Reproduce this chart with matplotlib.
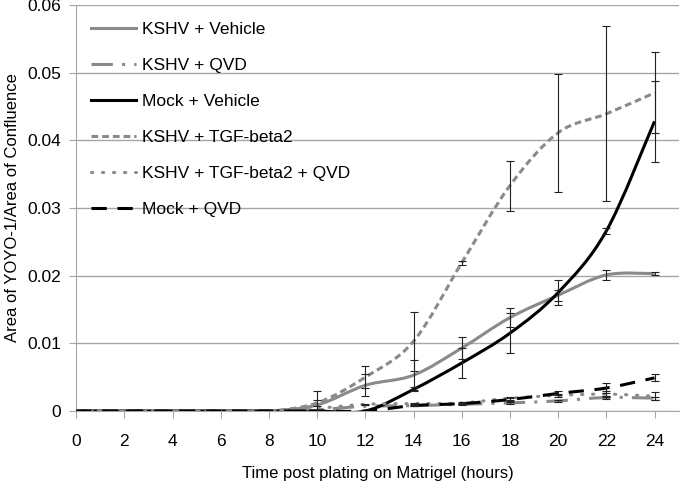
import numpy as np
import matplotlib
matplotlib.use("Agg")
import matplotlib.pyplot as plt
from matplotlib.path import Path
from matplotlib.patches import PathPatch
from matplotlib.lines import Line2D

plt.rcParams["font.family"] = ["Liberation Sans", "DejaVu Sans"]

HOURS = [0, 2, 4, 6, 8, 10, 12, 14, 16, 18, 20, 22, 24]

KSHV_VEHICLE = [0, 0, 0, 0, 0, 0.0009, 0.0038, 0.0053, 0.0093, 0.0138, 0.0171, 0.0201, 0.0203]
KSHV_VEHICLE_ERR = [0, 0, 0, 0, 0, 0.0021, 0.0016, 0.0022, 0.0016, 0.0014, 0.0008, 0.0007, 0.0002]

KSHV_QVD = [0, 0, 0, 0, 0, 0.0002, 0.0007, 0.0008, 0.0010, 0.0012, 0.0015, 0.0020, 0.0019]
KSHV_QVD_ERR = [0, 0, 0, 0, 0, 0, 0, 0.0001, 0.0001, 0.0001, 0.0002, 0.0002, 0.0002]

MOCK_VEHICLE = [0, 0, 0, 0, 0, 0, 0, 0.0032, 0.0071, 0.0115, 0.0175, 0.0266, 0.0428]
MOCK_VEHICLE_ERR = [0, 0, 0, 0, 0, 0, 0, 0.0003, 0.0022, 0.0030, 0.0019, 0.0005, 0.0060]

KSHV_TGF = [0, 0, 0, 0, 0, 0.0012, 0.0050, 0.0103, 0.0219, 0.0333, 0.0411, 0.0439, 0.0470]
KSHV_TGF_ERR = [0, 0, 0, 0, 0, 0.0005, 0.0016, 0.0044, 0.0003, 0.0037, 0.0087, 0.0129, 0.0060]

KSHV_TGF_QVD = [0, 0, 0, 0, 0, 0.0004, 0.0010, 0.0011, 0.0012, 0.0019, 0.0023, 0.0025, 0.0022]
KSHV_TGF_QVD_ERR = [0, 0, 0, 0, 0, 0, 0.0001, 0.0001, 0.0001, 0.0002, 0.0002, 0.0004, 0.0006]

MOCK_QVD = [0, 0, 0, 0, 0, 0, 0, 0.0008, 0.0011, 0.0017, 0.0026, 0.0034, 0.0049]
MOCK_QVD_ERR = [0, 0, 0, 0, 0, 0, 0, 0.0001, 0.0001, 0.0002, 0.0003, 0.0008, 0.0005]

GRAY = "#8a8a8a"
BLACK = "#000000"

SERIES = [
    ("KSHV + Vehicle", KSHV_VEHICLE, KSHV_VEHICLE_ERR, GRAY, "-", "butt"),
    ("KSHV + QVD", KSHV_QVD, KSHV_QVD_ERR, GRAY, (0, (7, 3, 1, 3)), "butt"),
    ("Mock + Vehicle", MOCK_VEHICLE, MOCK_VEHICLE_ERR, BLACK, "-", "butt"),
    ("KSHV + TGF-beta2", KSHV_TGF, KSHV_TGF_ERR, GRAY, (0, (2.2, 1.3)), "butt"),
    ("KSHV + TGF-beta2 + QVD", KSHV_TGF_QVD, KSHV_TGF_QVD_ERR, GRAY, (0, (0.4, 3.2)), "round"),
    ("Mock + QVD", MOCK_QVD, MOCK_QVD_ERR, BLACK, (0, (5, 3.5)), "butt"),
]


def smooth_path(x, y):
    # Excel-style smoothed line: cubic bezier segments through the points
    pts = np.column_stack([x, y]).astype(float)
    n = len(pts)
    verts = [pts[0]]
    codes = [Path.MOVETO]
    for i in range(n - 1):
        p0 = pts[i - 1] if i > 0 else pts[i]
        p1 = pts[i]
        p2 = pts[i + 1]
        p3 = pts[i + 2] if i + 2 < n else pts[i + 1]
        verts += [p1 + (p2 - p0) / 6, p2 - (p3 - p1) / 6, p2]
        codes += [Path.CURVE4] * 3
    return Path(verts, codes)


fig = plt.figure(figsize=(6.8, 4.83), dpi=100)
ax = fig.add_axes([0.112, 0.149, 0.886, 0.841])

handles = []
for label, vals, errs, color, ls, cap in SERIES:
    patch = PathPatch(smooth_path(HOURS, vals), fill=False, edgecolor=color,
                      lw=2.2, linestyle=ls, capstyle=cap, zorder=3)
    ax.add_patch(patch)
    x_err = [h for h, e in zip(HOURS, errs) if e > 0]
    y_err = [v for v, e in zip(vals, errs) if e > 0]
    e_err = [e for e in errs if e > 0]
    ax.errorbar(x_err, y_err, yerr=e_err, fmt="none", ecolor="#222222",
                elinewidth=0.8, capsize=3, capthick=0.8, zorder=4)
    handles.append(Line2D([], [], color=color, lw=2.2, linestyle=ls,
                          dash_capstyle=cap, label=label))

ax.set_xlim(0, 25)
ax.set_ylim(0, 0.06)
ax.set_xticks(range(0, 25, 2))
ax.set_yticks([0, 0.01, 0.02, 0.03, 0.04, 0.05, 0.06])
ax.set_yticklabels(["0", "0.01", "0.02", "0.03", "0.04", "0.05", "0.06"])
ax.grid(axis="y", color="#a6a6a6", lw=1.0)
ax.set_axisbelow(True)
ax.tick_params(axis="both", labelsize=12.5, color="#a6a6a6", length=5,
               direction="out")
ax.tick_params(axis="x", pad=11.5)
ax.tick_params(axis="y", pad=6)

for spine in ["top", "right"]:
    ax.spines[spine].set_visible(False)
ax.spines["left"].set_color("#a6a6a6")
ax.spines["bottom"].set_color("#a6a6a6")

ax.set_xlabel("Time post plating on Matrigel (hours)", fontsize=12, labelpad=12)
ax.set_ylabel("Area of YOYO-1/Area of Confluence", fontsize=12, labelpad=5)

ax.legend(handles=handles, loc="upper left", bbox_to_anchor=(0.005, 0.988),
          frameon=False, fontsize=12.5, handlelength=2.6, labelspacing=1.2,
          handletextpad=0.3, borderaxespad=0.3)

fig.savefig("out.png", dpi=100)
